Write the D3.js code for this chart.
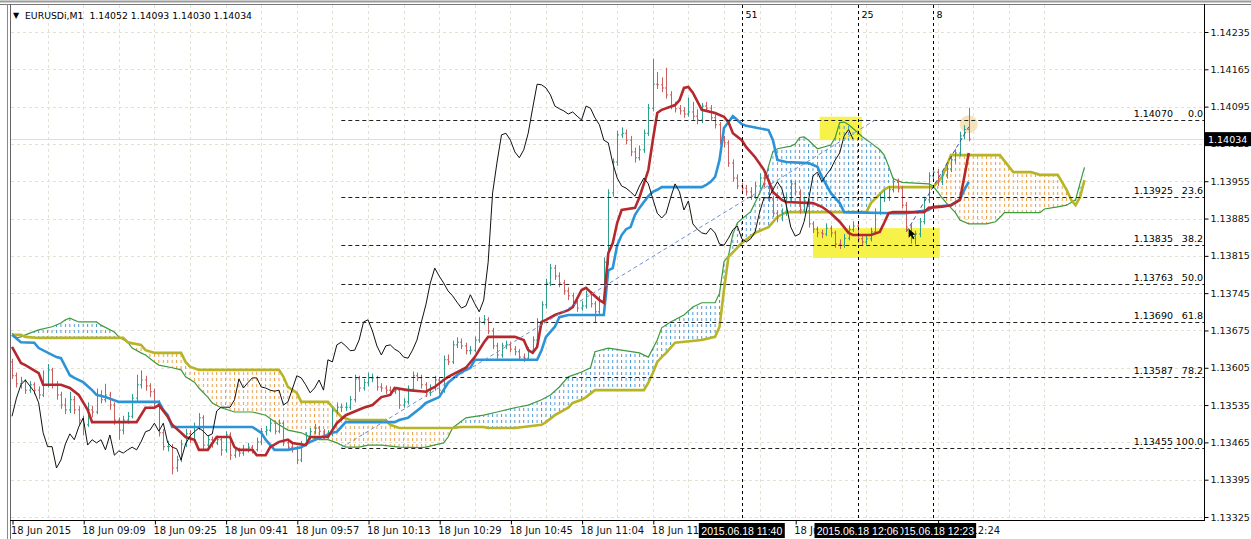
<!DOCTYPE html>
<html>
<head>
<meta charset="utf-8">
<script src="https://cdn.jsdelivr.net/npm/d3@7"></script>
<style>
body{margin:0;background:#fff;}
svg{display:block;font-family:"DejaVu Sans",sans-serif;}
</style>
</head>
<body>
<div class="viz"></div>
<script>
var w = 1251, h = 539;
var base = 1.13; // all series below are in points above 1.13000

// M1 bars [open, high, low, close]
var ohlc = [
[616,622,584,590],[590,596,568,575],[575,588,566,580],[580,584,556,563],[563,580,558,573],[573,578,555,563],[563,570,546,554],[554,600,550,573],
[573,612,568,601],[601,605,566,573],[573,580,545,554],[554,560,528,535],[535,548,518,526],[526,560,520,545],[545,552,518,526],[526,533,498,507],
[507,515,478,498],[498,540,494,526],[526,534,512,522],[522,566,518,554],[554,563,538,545],[545,575,540,554],[554,560,526,535],[535,540,498,507],
[507,512,470,488],[488,515,480,507],[507,522,500,514],[514,556,510,548],[548,592,542,573],[573,600,566,582],[582,590,562,571],[571,576,550,560],
[560,566,530,539],[539,544,476,483],[483,490,450,457],[457,468,448,457],[457,462,405,417],[417,440,410,432],[432,470,428,462],[462,490,456,481],
[481,488,464,470],[470,502,466,494],[494,520,488,511],[511,516,452,460],[460,478,454,470],[470,476,455,464],[464,478,460,470],[470,474,440,451],
[451,486,446,479],[479,484,432,441],[441,456,436,449],[449,455,438,445],[445,460,440,451],[451,464,446,456],[456,460,444,451],[451,474,448,466],
[466,492,460,485],[485,496,478,488],[488,510,484,501],[501,506,480,486],[486,508,482,501],[501,504,458,464],[464,470,450,456],[456,462,446,453],
[453,458,424,432],[432,468,428,462],[462,484,458,477],[477,492,470,485],[485,500,480,492],[492,496,478,486],[486,490,470,477],[477,488,472,481],
[481,530,476,524],[524,540,518,531],[531,538,522,531],[531,540,524,531],[531,552,526,545],[545,592,540,584],[584,590,560,567],[567,584,562,577],
[577,596,570,586],[586,594,578,586],[586,590,562,569],[569,576,560,567],[567,572,556,563],[563,570,554,561],[561,568,556,563],[563,566,528,535],
[535,548,530,541],[541,572,536,565],[565,598,560,590],[590,596,580,586],[586,592,566,573],[573,578,550,558],[558,574,552,567],[567,590,562,582],
[582,588,556,563],[563,628,558,620],[620,630,610,616],[616,656,612,648],[648,662,642,653],[653,660,640,646],[646,652,630,637],[637,646,630,638],
[638,664,634,657],[657,700,652,691],[691,704,686,695],[695,700,668,674],[674,680,640,646],[646,652,622,629],[629,652,624,646],[646,656,640,648],
[648,654,634,640],[640,646,628,635],[635,640,618,625],[625,632,616,623],[623,644,618,638],[638,664,632,657],[657,698,650,691],[691,730,686,723],
[723,772,716,764],[764,800,758,792],[792,798,770,777],[777,784,756,764],[764,770,742,749],[749,756,732,740],[740,746,720,728],[728,734,710,717],
[717,730,712,721],[721,750,716,742],[742,748,718,725],[725,730,690,710],[710,740,704,732],[732,812,726,803],[803,940,798,933],[933,998,926,991],
[991,1050,984,1042],[1042,1056,1036,1045],[1045,1052,1024,1032],[1032,1040,1002,1010],[1010,1018,990,999],[999,1022,994,1014],[1014,1052,1008,1045],[1045,1100,1040,1092],
[1092,1185,1086,1137],[1137,1160,1128,1136],[1136,1150,1122,1130],[1130,1168,1110,1117],[1117,1124,1090,1096],[1096,1104,1084,1091],[1091,1098,1080,1087],[1087,1094,1074,1081],
[1081,1112,1076,1085],[1085,1104,1070,1077],[1077,1090,1062,1070],[1070,1102,1064,1096],[1096,1104,1086,1092],[1092,1098,1068,1074],[1074,1080,1054,1061],[1061,1066,1024,1032],
[1032,1040,1018,1027],[1027,1032,982,989],[989,996,954,961],[961,968,940,946],[946,952,934,942],[942,948,928,935],[935,944,920,927],[927,954,922,946],
[946,970,940,961],[961,968,944,950],[950,956,916,922],[922,928,888,895],[895,900,878,886],[886,904,880,895],[895,932,890,924],[924,958,918,950],
[950,956,928,935],[935,940,894,901],[901,926,896,918],[918,922,868,875],[875,880,858,865],[865,870,850,858],[858,864,848,856],[856,876,852,867],
[867,872,850,858],[858,862,830,837],[837,846,828,835],[835,856,830,848],[848,872,844,864],[864,880,860,871],[871,876,840,847],[847,852,834,841],
[841,854,836,847],[847,868,842,860],[860,904,856,897],[897,932,892,924],[924,938,916,924],[924,946,918,939],[939,962,934,954],[954,960,934,941],
[941,946,904,910],[910,916,862,869],[869,874,838,852],[852,862,836,856],[856,886,850,879],[879,926,874,920],[920,972,914,965],[965,980,958,972],
[972,978,946,954],[954,974,948,967],[967,986,960,978],[978,1002,972,995],[995,1016,988,1008],[1008,1048,1002,1040],[1040,1060,1034,1052],[1052,1093,1030,1034]
];

// Ichimoku lines, read as [bar index, points] vertices
var tenkan = [[0,644],[2,614],[3,610],[6,595],[7,573],[11,573],[13,567],[15,554],[17,526],[18,503],[28,503],[30,530],[32,530],[33,535],[35,513],[36,498],[38,483],[39,475],[41,470],[42,451],[44,451],[46,475],[49,475],[50,456],[51,451],[54,451],[55,441],[57,441],[58,456],[60,466],[62,470],[63,464],[66,460],[67,475],[71,475],[73,501],[75,516],[79,530],[81,535],[83,550],[85,554],[86,567],[89,563],[93,560],[95,569],[97,582],[98,588],[102,605],[104,625],[106,652],[107,663],[113,663],[115,657],[116,638],[117,633],[118,644],[119,691],[120,695],[122,704],[125,713],[126,719],[128,751],[129,755],[130,747],[132,732],[133,727],[134,820],[135,839],[136,877],[137,901],[140,905],[141,925],[143,976],[144,1032],[145,1083],[146,1089],[149,1098],[150,1107],[151,1130],[152,1132],[153,1121],[155,1089],[158,1083],[160,1076],[161,1066],[162,1045],[164,1032],[165,1019],[167,1000],[169,976],[170,957],[171,935],[173,920],[174,916],[180,914],[182,907],[184,895],[186,879],[188,858],[189,854],[193,854],[195,860],[196,877],[197,895],[198,897],[205,897],[206,905],[209,907],[211,910],[213,920],[214,963],[215,1008]];
var kijun = [[0,667],[2,653],[5,652],[6,642],[10,625],[11,623],[13,591],[14,586],[16,578],[18,563],[19,554],[21,550],[24,541],[33,541],[34,526],[35,516],[36,494],[54,494],[56,483],[57,470],[59,451],[62,451],[65,456],[67,466],[72,483],[73,485],[75,503],[86,503],[87,507],[89,511],[92,531],[93,539],[96,550],[98,577],[100,591],[101,597],[103,605],[104,620],[118,620],[119,638],[120,663],[122,682],[123,700],[125,704],[133,704],[134,788],[135,792],[136,835],[137,854],[138,865],[139,869],[140,892],[141,905],[142,916],[143,927],[144,935],[145,939],[146,944],[155,944],[156,948],[157,954],[158,963],[159,995],[160,1055],[161,1066],[162,1077],[163,1070],[164,1062],[165,1059],[170,1051],[171,1032],[172,995],[174,991],[179,989],[181,982],[182,963],[184,933],[186,914],[187,897],[198,895],[201,895],[206,901],[207,907],[211,910],[213,920],[214,939],[215,954]];
var spanA = [[0,670],[1,661],[2,663],[4,670],[6,676],[9,682],[11,689],[12,695],[13,698],[15,691],[19,691],[20,685],[23,672],[24,663],[26,653],[27,642],[29,633],[30,629],[32,616],[33,610],[36,605],[38,601],[39,588],[41,578],[42,567],[44,550],[45,539],[47,530],[50,522],[54,522],[57,516],[60,498],[62,488],[65,483],[67,475],[69,470],[71,470],[73,464],[75,456],[78,456],[80,460],[83,460],[87,456],[92,455],[93,456],[97,464],[98,475],[99,492],[102,511],[106,516],[109,522],[113,530],[116,535],[119,545],[121,554],[123,569],[125,588],[128,597],[130,605],[131,635],[134,642],[137,638],[141,633],[143,625],[145,657],[146,680],[148,691],[151,704],[153,719],[155,727],[158,727],[159,745],[160,804],[161,815],[162,856],[163,877],[164,884],[166,898],[167,915],[168,933],[169,951],[170,983],[171,1011],[172,1016],[175,1021],[176,1025],[177,1037],[178,1038],[179,1032],[181,1016],[184,1023],[185,1037],[186,1065],[187,1066],[188,1061],[190,1047],[191,1039],[193,1027],[195,1014],[196,1004],[197,983],[198,960],[200,953],[206,950],[207,946],[208,935],[209,924],[210,914],[211,905],[212,896],[213,882],[215,875],[219,875],[221,879],[222,887],[223,896],[231,896],[232,903],[235,907],[237,910],[239,920],[240,951],[241,981]];
var spanB = [[0,667],[2,667],[3,663],[6,661],[25,661],[26,653],[29,648],[30,638],[32,633],[38,633],[39,616],[40,607],[42,601],[60,601],[61,588],[62,569],[64,558],[65,541],[71,541],[73,522],[74,513],[76,507],[84,507],[85,498],[87,492],[99,492],[101,494],[106,494],[107,492],[113,492],[119,498],[120,503],[122,516],[125,530],[126,539],[128,545],[129,550],[131,563],[142,563],[143,577],[144,595],[145,616],[146,625],[147,633],[149,652],[155,657],[158,663],[159,682],[160,751],[161,813],[164,839],[167,858],[170,869],[172,888],[174,897],[192,897],[193,914],[196,939],[197,944],[207,944],[209,963],[211,1004],[222,1004],[225,972],[229,972],[231,967],[235,967],[237,939],[238,920],[239,910],[240,925],[241,957]];

var priceTicks = [1.14235,1.14165,1.14095,1.14025,1.13955,1.13885,1.13815,1.13745,1.13675,1.13605,1.13535,1.13465,1.13395,1.13325];
var timeIdx = [0,16,32,48,64,80,96,112,128,144,176,208];
var timeLabels = ["18 Jun 2015","18 Jun 09:09","18 Jun 09:25","18 Jun 09:41","18 Jun 09:57","18 Jun 10:13","18 Jun 10:29","18 Jun 10:45","18 Jun 11:04","18 Jun 11:20","18 Jun 11:52","18 Jun 12:24"];

var fibLevels = ["0.0","23.6","38.2","50.0","61.8","78.2","100.0"];
var fibPrices = [1.14070,1.13925,1.13835,1.13763,1.13690,1.13587,1.13455];
var fibFrom = [74, 1.13455], fibTo = [194, 1.14070];
var trend2 = [[201, 1.13860],[215, 1.14057]];

var markIdx = [164,190,207];
var markCounts = ["51","25","8"];
var markTimes = ["2015.06.18 11:40","2015.06.18 12:06","2015.06.18 12:23"];
var boxes = [[181.5,191,1.14076,1.14032],[180,208.5,1.13867,1.13811]];
var lastPrice = 1.14034;

var x = d3.scaleLinear().domain([0,241]).range([12, 12 + 241*4.45]);
var y = d3.scaleLinear().domain([1.13325,1.14235]).range([517,32]);
function P(v){ return base + v/1e5; }

var svg = d3.select('.viz').append('svg').attr('width', w).attr('height', h);
var defs = svg.append('defs');
defs.append('clipPath').attr('id','plot').append('rect')
    .attr('x',11).attr('y',5).attr('width',1193).attr('height',516);

function hatch(id, col){
  var p = defs.append('pattern').attr('id',id).attr('patternUnits','userSpaceOnUse')
      .attr('x', x(0)-0.5).attr('y',0).attr('width',4.45).attr('height',6);
  p.append('rect').attr('x',0).attr('y',0).attr('width',1).attr('height',3).attr('fill',col);
}
hatch('hb','#4f97d0');
hatch('ho','#e89d45');

var g = svg.append('g').attr('clip-path','url(#plot)');

// grid
var gx = d3.range(8, 240, 8).map(function(d){return 12 + d*4.45;});
g.selectAll('line.gv').data(gx).enter().append('line')
  .attr('x1',function(d){return Math.round(d)+0.5;}).attr('x2',function(d){return Math.round(d)+0.5;})
  .attr('y1',5).attr('y2',521).attr('stroke','#e4e1d3').attr('stroke-dasharray','3,3');
g.selectAll('line.gh').data(priceTicks).enter().append('line')
  .attr('x1',11).attr('x2',1204)
  .attr('y1',function(d){return Math.round(y(d))+0.5;}).attr('y2',function(d){return Math.round(y(d))+0.5;})
  .attr('stroke','#e4e1d3').attr('stroke-dasharray','3,3');

// bid line
g.append('line').attr('x1',11).attr('x2',1204).attr('y1',Math.round(y(lastPrice))+0.5).attr('y2',Math.round(y(lastPrice))+0.5)
  .attr('stroke','#e9e4a2');

// yellow highlight boxes
g.selectAll('rect.hl').data(boxes).enter().append('rect')
  .attr('x',function(d){return x(d[0]);}).attr('width',function(d){return x(d[1])-x(d[0]);})
  .attr('y',function(d){return y(d[2]);}).attr('height',function(d){return y(d[3])-y(d[2]);})
  .attr('fill','#f7f24a');

// cloud
var pt = function(d){ return [x(d[0]), y(P(d[1]))]; };
var line = d3.line().x(function(d){return x(d[0]);}).y(function(d){return y(P(d[1]));});
var cloudPts = spanA.map(pt).concat(spanB.slice().reverse().map(pt));
var bPts = spanB.map(pt);
var xa = x(0), xb = x(241);
defs.append('clipPath').attr('id','aboveB').append('path')
  .attr('d', 'M' + bPts.join('L') + 'L' + xb + ',0L' + xa + ',0Z');
defs.append('clipPath').attr('id','belowB').append('path')
  .attr('d', 'M' + bPts.join('L') + 'L' + xb + ',600L' + xa + ',600Z');
var cloudD = 'M' + cloudPts.join('L') + 'Z';
g.append('g').attr('clip-path','url(#aboveB)').append('path').attr('d',cloudD).attr('fill','url(#hb)');
g.append('g').attr('clip-path','url(#belowB)').append('path').attr('d',cloudD).attr('fill','url(#ho)');

g.append('path').datum(spanA).attr('d',line).attr('fill','none').attr('stroke','#3d9a3d').attr('stroke-width',1.2);
g.append('path').datum(spanB).attr('d',line).attr('fill','none').attr('stroke','#b8b425').attr('stroke-width',2.6);

// circle marker near last high
g.append('circle').attr('cx',x(215)).attr('cy',y(1.14062)).attr('r',9).attr('fill','#f1d9a8').attr('opacity',0.75);

// bars
var bars = g.append('g');
ohlc.forEach(function(d,i){
  var cx = Math.round(x(i))+0.5;
  var col = d[3] >= d[0] ? '#2f9f8c' : '#c9605e';
  bars.append('line').attr('x1',cx).attr('x2',cx).attr('y1',y(P(d[1]))).attr('y2',y(P(d[2]))).attr('stroke',col);
  bars.append('line').attr('x1',cx-1.5).attr('x2',cx).attr('y1',y(P(d[0]))).attr('y2',y(P(d[0]))).attr('stroke',col);
  bars.append('line').attr('x1',cx).attr('x2',cx+1.5).attr('y1',y(P(d[3]))).attr('y2',y(P(d[3]))).attr('stroke',col);
});

g.append('path').datum(kijun).attr('d',line).attr('fill','none').attr('stroke','#2c93d8').attr('stroke-width',2.6);
g.append('path').datum(tenkan).attr('d',line).attr('fill','none').attr('stroke','#b5282d').attr('stroke-width',2.6);

// chikou: closes shifted 26 bars back
var chikou = ohlc.slice(26).map(function(d,i){return [i, d[3]];});
g.append('path').datum(chikou).attr('d',line).attr('fill','none').attr('stroke','#111').attr('stroke-width',1);

// fibo
var fy = function(p){return Math.round(y(p))+0.5;};
g.selectAll('line.fib').data(fibPrices).enter().append('line')
  .attr('x1',x(fibFrom[0])).attr('x2',1204).attr('y1',fy).attr('y2',fy)
  .attr('stroke','#222').attr('stroke-dasharray','4,3');
g.append('line').attr('x1',x(fibFrom[0])).attr('y1',y(fibFrom[1])).attr('x2',x(fibTo[0])).attr('y2',y(fibTo[1]))
  .attr('stroke','#6f8fd6').attr('stroke-dasharray','4,3');
g.append('line').attr('x1',x(trend2[0][0])).attr('y1',y(trend2[0][1])).attr('x2',x(trend2[1][0])).attr('y2',y(trend2[1][1]))
  .attr('stroke','#3848b0').attr('stroke-dasharray','4,3');
g.selectAll('text.fp').data(fibPrices).enter().append('text')
  .attr('x',1173).attr('y',function(d){return y(d)-3;}).attr('text-anchor','end').attr('font-size',9.5)
  .text(function(d){return d.toFixed(5);});
g.selectAll('text.fl').data(fibLevels).enter().append('text')
  .attr('x',1203).attr('y',function(d,i){return y(fibPrices[i])-3;}).attr('text-anchor','end').attr('font-size',9.5)
  .text(function(d){return d;});

// cursor arrow
g.append('path').attr('transform','translate(' + x(201.5) + ',' + y(1.13866) + ')')
  .attr('d','M0,0L0,9L2.3,6.8L4.3,10.5L5.8,9.8L3.9,6.2L7,6Z').attr('fill','#000');

// vertical markers
markIdx.forEach(function(m,i){
  var mx = Math.round(x(m))+0.5;
  svg.append('line').attr('x1',mx).attr('x2',mx).attr('y1',5).attr('y2',521)
    .attr('stroke','#000').attr('stroke-dasharray','3,3');
  svg.append('text').attr('x',mx+3).attr('y',18).attr('font-size',9.5).text(markCounts[i]);
});

// frame
svg.append('line').attr('x1',0).attr('x2',w).attr('y1',1.5).attr('y2',1.5).attr('stroke','#9a9a9a').attr('stroke-width',2);
svg.append('line').attr('x1',0).attr('x2',w).attr('y1',4.5).attr('y2',4.5).attr('stroke','#777');
svg.append('line').attr('x1',7.5).attr('x2',7.5).attr('y1',4).attr('y2',h).attr('stroke','#888');
svg.append('line').attr('x1',10.5).attr('x2',10.5).attr('y1',4).attr('y2',h).attr('stroke','#666');
svg.append('line').attr('x1',1204.5).attr('x2',1204.5).attr('y1',4).attr('y2',521).attr('stroke','#000');
svg.append('line').attr('x1',10).attr('x2',1205).attr('y1',520.5).attr('y2',520.5).attr('stroke','#000');

// axes
var yAxis = d3.axisRight(y).tickValues(priceTicks).tickSize(4).tickFormat(d3.format('.5f'));
svg.append('g').attr('transform','translate(1204.5,0)').call(yAxis)
  .attr('font-family','DejaVu Sans').attr('font-size',9.5)
  .call(function(a){ a.select('.domain').remove(); a.selectAll('text').attr('x',6).attr('fill','#111'); });

var xAxis = d3.axisBottom(x).tickValues(timeIdx).tickSize(4).tickFormat(function(d,i){return timeLabels[i];});
svg.append('g').attr('transform','translate(0.5,520.5)').call(xAxis)
  .attr('font-family','DejaVu Sans').attr('font-size',10)
  .call(function(a){ a.select('.domain').remove(); a.selectAll('text').attr('text-anchor','start').attr('x',-2).attr('y',6).attr('fill','#111'); });

// price box
svg.append('rect').attr('x',1205).attr('y',y(lastPrice)-7).attr('width',46).attr('height',14).attr('fill','#000');
svg.append('text').attr('x',1208).attr('y',y(lastPrice)+4).attr('fill','#fff').attr('font-size',9.5).text(lastPrice.toFixed(5));

// time boxes (third first, second drawn over it)
[2,0,1].forEach(function(i){
  var mx = x(markIdx[i]);
  svg.append('rect').attr('x',mx-43).attr('y',523).attr('width',86).attr('height',15).attr('fill','#000');
  svg.append('text').attr('x',mx).attr('y',535).attr('text-anchor','middle').attr('fill','#fff')
    .style('font-family','"Liberation Sans", Arial, sans-serif').attr('font-size',10.5).text(markTimes[i]);
});

// header
svg.append('text').attr('x',13).attr('y',18).attr('font-size',8).text('\u25BC');
svg.append('text').attr('x',25).attr('y',19).attr('font-size',9.3).attr('xml:space','preserve')
  .text('EURUSDi,M1  1.14052 1.14093 1.14030 1.14034');
</script>
</body>
</html>
